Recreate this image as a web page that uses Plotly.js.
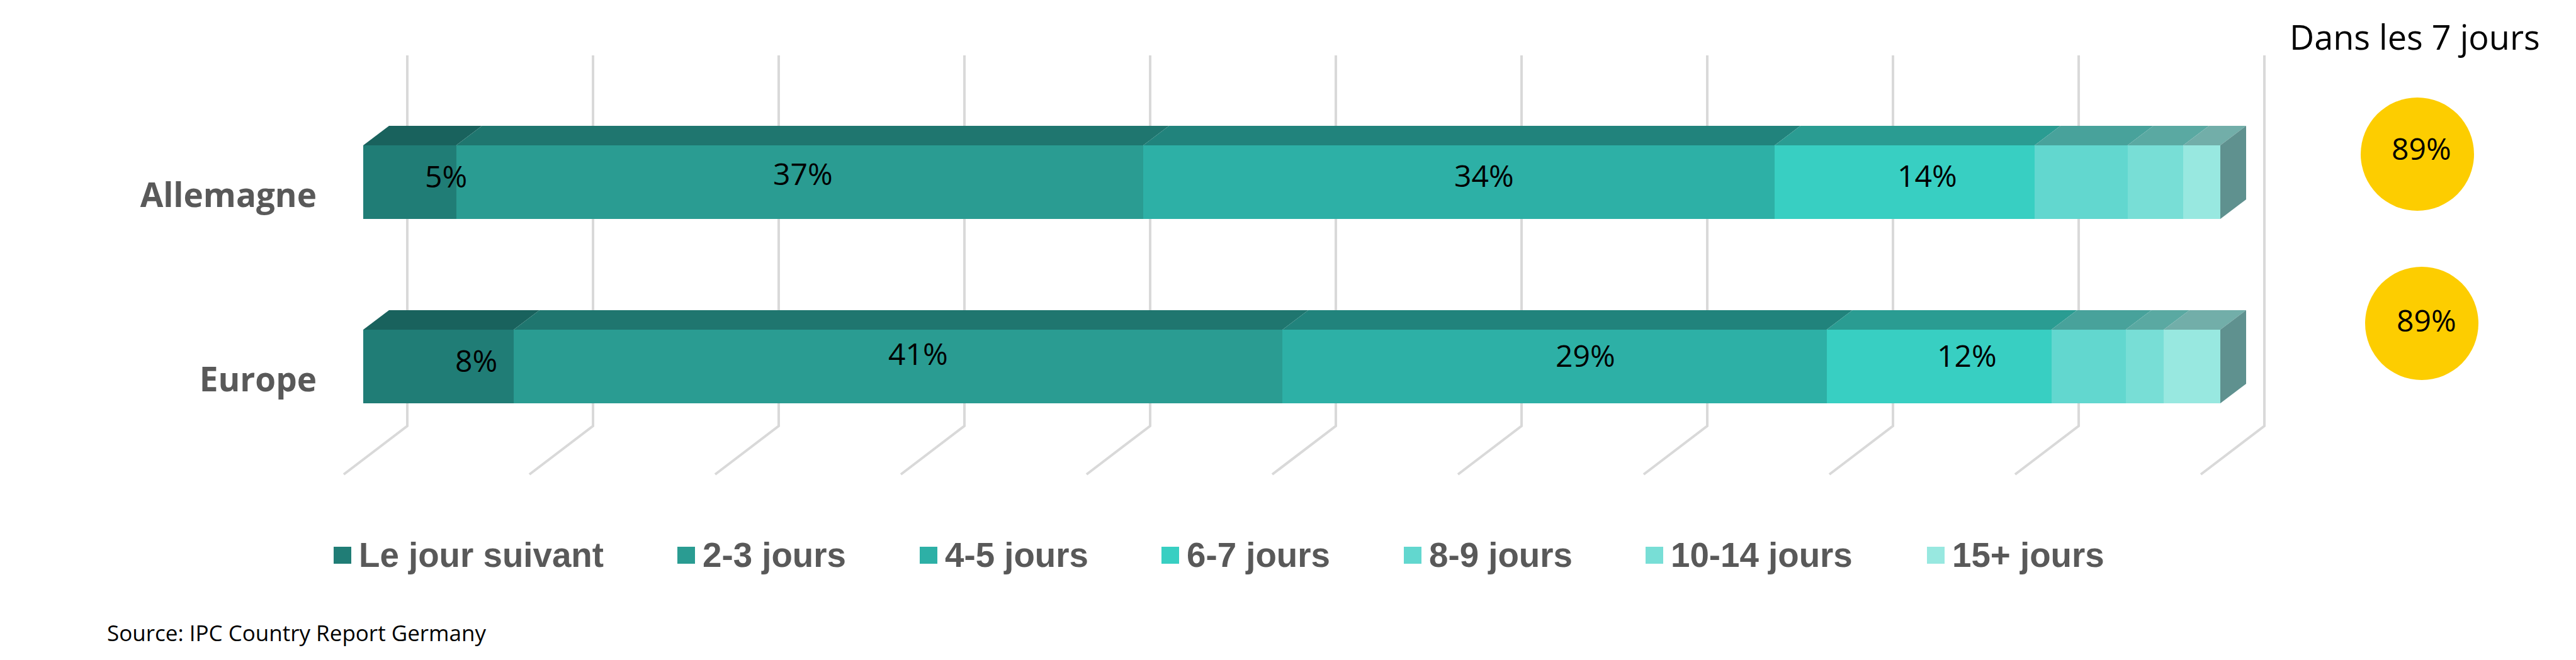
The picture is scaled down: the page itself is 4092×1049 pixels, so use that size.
<!DOCTYPE html>
<html><head><meta charset="utf-8">
<script src="https://cdn.plot.ly/plotly-3.0.1.min.js"></script>
<style>html,body{margin:0;padding:0;background:#fff}</style>
</head><body><div id="chart" style="width:4092px;height:1049px"></div>
<script>
// ---- data ----
const categories = ['Allemagne', 'Europe'];
const seriesNames = ['Le jour suivant', '2-3 jours', '4-5 jours', '6-7 jours', '8-9 jours', '10-14 jours', '15+ jours'];
const allemagneValues = [5, 37, 34, 14, 5, 3, 2];
const europeValues = [8.1, 41.4, 29.3, 12.1, 4.0, 2.05, 3.05];
const allemagneLabels = ['5%', '37%', '34%', '14%', '', '', ''];
const europeLabels = ['8%', '41%', '29%', '12%', '', '', ''];
const within7Days = ['89%', '89%'];
const gridTicks = [0, 10, 20, 30, 40, 50, 60, 70, 80, 90, 100];
const frontColors = ['#207d76', '#2a9c92', '#2db0a6', '#38cfc2', '#62d7cf', '#78ded6', '#98e8e0'];
const topColors = ['#19625d', '#1f766f', '#21837c', '#2a9c92', '#48a29b', '#5aa9a2', '#72aea9'];
const sideColor = '#5f918f';

// ---- geometry of the fake 3D look ----
const W = 4092, H = 1049, LEFT = 504;
const X = px => (px - 577) / 29.5;          // pixel -> % axis
const Y = px => (582.5 - px) / 293;         // pixel -> row axis
const dX = 41 / 29.5, dY = 31 / 293;        // bar depth
const PX = px => (px - LEFT) / (W - LEFT);  // pixel -> paper x
const PY = px => 1 - px / H;                // pixel -> paper y
const barW = 117 / 293;
const rowsValues = [allemagneValues, europeValues];
const rowsLabels = [allemagneLabels, europeLabels];
const rowY = i => categories.length - 1 - i;

// hand placement of the labels relative to segment centres (px)
const labelShift = [[58, 5, 40, 36], [60, 32, 49, 44]];
const labelLift = [[10, 14, 11, 11], [10, 21, 18, 18]];
const fontBody = '"Open Sans", sans-serif';
const fontLegend = '"Liberation Sans", Arial, sans-serif';

const traces = [];
// front faces, stacked bars
seriesNames.forEach((name, s) => {
  traces.push({
    type: 'bar', orientation: 'h', name, showlegend: false,
    x: rowsValues.map(r => r[s]), y: categories.map((c, i) => rowY(i)),
    width: barW, marker: {color: frontColors[s], line: {width: 0}}, hoverinfo: 'name+x'
  });
});
// top faces and end faces, drawn from the same values
rowsValues.forEach((vals, i) => {
  const top = rowY(i) + barW / 2, bottom = rowY(i) - barW / 2;
  let c = 0;
  vals.forEach((v, s) => {
    traces.push({
      type: 'scatter', mode: 'lines', fill: 'toself', showlegend: false, hoverinfo: 'skip',
      fillcolor: topColors[s], line: {width: 0},
      x: [c, c + v, c + v + dX, c + dX, c], y: [top, top, top + dY, top + dY, top]
    });
    c += v;
  });
  traces.push({
    type: 'scatter', mode: 'lines', fill: 'toself', showlegend: false, hoverinfo: 'skip',
    fillcolor: sideColor, line: {width: 0},
    x: [c, c + dX, c + dX, c, c], y: [top, top + dY, bottom + dY, bottom, top]
  });
});
// yellow bubbles
traces.push({
  type: 'scatter', mode: 'markers', showlegend: false, hoverinfo: 'skip',
  x: [X(3840), X(3847)], y: [Y(245), Y(514)],
  marker: {size: 180, color: '#fdcd00', line: {width: 0}}
});

const shapes = gridTicks.map(t => ({
  type: 'path', layer: 'below', xref: 'x', yref: 'y',
  path: `M${t + X(647) - X(577)},${Y(88)} V${Y(677)} L${t + X(546) - X(577)},${Y(754)}`,
  line: {color: '#d9d9d9', width: 4}
}));

const annotations = [];
rowsValues.forEach((vals, i) => {
  let c = 0;
  vals.forEach((v, s) => {
    if (rowsLabels[i][s]) annotations.push({
      xref: 'x', yref: 'y', x: c + v / 2, y: rowY(i), text: rowsLabels[i][s], showarrow: false,
      xanchor: 'center', yanchor: 'middle',
      xshift: labelShift[i][s], yshift: labelLift[i][s],
      font: {family: fontBody, size: 48, color: '#000'}
    });
    c += v;
  });
});
const legendLeft = [530, 1076, 1461, 1845, 2230, 2614, 3061];
seriesNames.forEach((n, s) => {
  shapes.push({type: 'rect', layer: 'below', xref: 'paper', yref: 'paper',
    x0: PX(legendLeft[s]), x1: PX(legendLeft[s] + 28), y0: PY(869), y1: PY(896),
    fillcolor: frontColors[s], line: {width: 0}});
  annotations.push({xref: 'paper', yref: 'paper', x: PX(legendLeft[s] + 41 - 3), y: PY(882),
    xanchor: 'left', yanchor: 'middle', text: n, showarrow: false,
    font: {family: fontLegend, size: 54.7, weight: 700, color: '#595959'}});
});
within7Days.forEach((t, i) => annotations.push({
  xref: 'x', yref: 'y', x: X([3846, 3854][i]), y: Y([235, 508][i]), text: t, showarrow: false,
  xanchor: 'center', yanchor: 'middle',
  font: {family: fontBody, size: 48, color: '#000'}
}));
annotations.push({xref: 'paper', yref: 'paper', x: PX(3836), y: PY(58), text: 'Dans les 7 jours', showarrow: false,
  xanchor: 'center', yanchor: 'middle',
  font: {family: fontBody, size: 54, color: '#000'}});
annotations.push({xref: 'paper', yref: 'paper', x: PX(168), y: PY(1005), xanchor: 'left', yanchor: 'middle',
  text: 'Source: IPC Country Report Germany', showarrow: false,
  font: {family: fontBody, size: 35, color: '#000'}});

const layout = {
  width: W, height: H, margin: {l: LEFT, r: 0, t: 0, b: 0, pad: 0},
  paper_bgcolor: '#fff', plot_bgcolor: 'rgba(0,0,0,0)', barmode: 'stack', bargap: 0, showlegend: false,
  xaxis: {range: [X(LEFT), X(W)], visible: false, fixedrange: true},
  yaxis: {range: [Y(H), Y(0)], showgrid: false, zeroline: false, showline: false, ticks: '', fixedrange: true,
    tickmode: 'array', tickvals: categories.map((c, i) => rowY(i) + Y(310) - Y(289.5)), ticktext: categories,
    tickfont: {family: fontBody, size: 53, weight: 700, color: '#595959'}},
  shapes, annotations
};
Plotly.newPlot('chart', traces, layout, {displayModeBar: false, staticPlot: true});
</script></body></html>
